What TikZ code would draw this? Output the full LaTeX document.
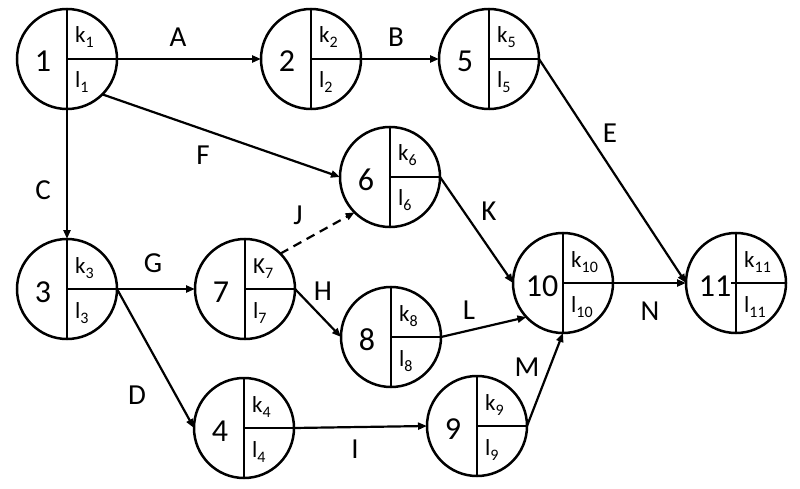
\documentclass[tikz,border=0pt]{standalone}
\usepackage{fontspec}
\setmainfont{Carlito}
\usetikzlibrary{arrows.meta}
\newcommand\sbx[1]{\raisebox{-5pt}{\fontsize{16}{16}\selectfont #1}}
\newcommand\evnode[7]{%
  \node[ev] (#1) at (#2,#3) {};
  \draw[div] (#1.north) -- (#1.south);
  \draw[div] (#1.center) -- (#1.east);
  \node[num] (#1n) at (#2+#5,#3+13) {#4};
  \node[sub] (#1k) at (#2+8,#3-16) {#6};
  \node[sub] (#1l) at (#2+8,#3+29) {#7};
}
\tikzset{
  ev/.style={circle, draw, line width=2.5pt, minimum size=100pt, inner sep=0pt, outer sep=0pt},
  div/.style={line width=2.4pt},
  num/.style={anchor=base, inner sep=0pt, font=\fontsize{32}{32}\selectfont},
  sub/.style={anchor=base west, inner sep=0pt, font=\fontsize{23}{23}\selectfont},
  lab/.style={inner sep=0pt, font=\fontsize{29}{29}\selectfont},
  arr/.style={line width=2.2pt, -{Triangle[length=9pt,width=7pt]}},
  dsh/.style={arr, dash pattern=on 9pt off 6pt},
}
\begin{document}
\begin{tikzpicture}[x=1pt,y=-1pt]
\useasboundingbox[fill=white] (0,0) rectangle (800,489);
\evnode{n1}{67}{59}{1}{-24}{k\sbx{1}}{l\sbx{1}}
\evnode{n2}{311}{59}{2}{-24}{k\sbx{2}}{l\sbx{2}}
\evnode{n5}{489}{59}{5}{-24}{k\sbx{5}}{l\sbx{5}}
\evnode{n6}{390}{177}{6}{-24}{k\sbx{6}}{l\sbx{6}}
\evnode{n3}{67}{289}{3}{-24}{k\sbx{3}}{l\sbx{3}}
\evnode{n7}{245}{289}{7}{-24}{K\sbx{7}}{l\sbx{7}}
\evnode{n8}{391}{337}{8}{-24}{k\sbx{8}}{l\sbx{8}}
\evnode{n10}{563}{283}{10}{-21}{k\sbx{10}}{l\sbx{10}}
\evnode{n11}{736}{283}{11}{-21}{k\sbx{11}}{l\sbx{11}}
\evnode{n4}{244}{428}{4}{-24}{k\sbx{4}}{l\sbx{4}}
\evnode{n9}{477}{426}{9}{-24}{k\sbx{9}}{l\sbx{9}}
\coordinate (t11) at (731,283);
\draw[div] (t11) -- (n11.center);

\draw[arr] (n1.east) -- (n2.west);
\draw[arr] (n2.east) -- (n5.west);
\draw[arr] (n1.south) -- (n3.north);
\draw[arr] (n1.-45) -- (n6.west);
\draw[arr] (n5.east) -- (n11.west);
\draw[arr] (n6.east) -- (n10.west);
\draw[arr] (n10.east) -- (n11.west);
\draw[arr] (n3.east) -- (n7.west);
\draw[arr] (n3.east) -- (n4.west);
\draw[dsh] (n7.45) -- (n6.225);
\draw[arr] (n7.east) -- (n8.west);
\draw[arr] (n8.east) -- (n10.223);
\draw[arr] (n4.east) -- (n9.west);
\draw[arr] (n9.east) -- (n10.south);

\node[lab] (lA) at (178,37) {A};
\node[lab] (lB) at (396,37) {B};
\node[lab] (lC) at (43,190) {C};
\node[lab] (lF) at (203,155) {F};
\node[lab] (lD) at (137,395) {D};
\node[lab] (lE) at (610,133) {E};
\node[lab] (lK) at (489,211) {K};
\node[lab] (lJ) at (298,215) {J};
\node[lab] (lG) at (153,263) {G};
\node[lab] (lH) at (323,291) {H};
\node[lab] (lL) at (469,310) {L};
\node[lab] (lN) at (650,311) {N};
\node[lab] (lM) at (527,367) {M};
\node[lab] (lI) at (355,449) {I};
\end{tikzpicture}
\end{document}
